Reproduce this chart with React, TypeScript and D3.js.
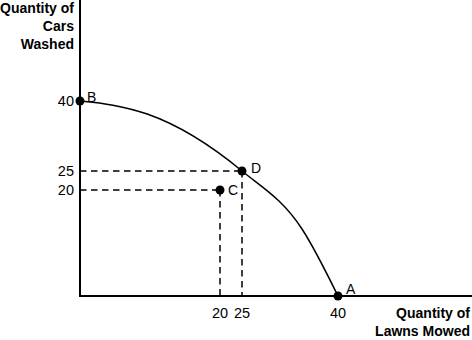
import React from "react";
import * as d3 from "d3";

// Production possibilities frontier (lawns mowed, cars washed)
const frontierLawns = [0, 4.7, 9.6, 25, 34.4, 40];
const frontierCars = [40, 39.1, 37.2, 25, 12.6, 0];

const pointNames = ["B", "D", "C", "A"];
const pointLawns = [0, 25, 20, 40];
const pointCars = [40, 25, 20, 0];

const xTicks = [20, 25, 40];
const yTicks = [20, 25, 40];

const dashedNames = ["D", "C"];

export default function App() {
  const W = 472;
  const H = 340;
  // schematic (piecewise) scales as in the original drawing
  const x = d3.scaleLinear().domain([0, 20, 25, 40]).range([80, 220, 242, 338]);
  const y = d3.scaleLinear().domain([0, 20, 25, 40]).range([296, 190, 171, 101]);

  const pts: [number, number][] = frontierLawns.map((l, i) => [x(l), y(frontierCars[i])]);
  const line = d3.line().curve(d3.curveMonotoneX)(pts) || "";

  const labelOffsets: Record<string, [number, number]> = {
    B: [7, -4],
    D: [9, -3],
    C: [8, 0],
    A: [8, -7],
  };

  const font = "'Liberation Sans', Arial, Helvetica, sans-serif";

  return (
    <svg width={W} height={H} style={{ position: "absolute", left: 0, top: 0, background: "#fff" }} fontFamily={font}>
      <rect width={W} height={H} fill="#fff" />
      {/* dashed guides */}
      {dashedNames.map((n) => {
        const i = pointNames.indexOf(n);
        const px = x(pointLawns[i]);
        const py = y(pointCars[i]);
        return (
          <g key={n} stroke="#000" strokeWidth={1.5} strokeDasharray="6.5 4.5" fill="none">
            <line x1={x(0)} y1={py} x2={px} y2={py} />
            <line x1={px} y1={py} x2={px} y2={y(0)} />
          </g>
        );
      })}
      {/* frontier */}
      <path d={line} fill="none" stroke="#000" strokeWidth={1.5} />
      {/* axes */}
      <line x1={x(0)} y1={0} x2={x(0)} y2={y(0) + 1} stroke="#000" strokeWidth={2} />
      <line x1={x(0) - 1} y1={y(0)} x2={W} y2={y(0)} stroke="#000" strokeWidth={2} />
      {/* ticks labels */}
      {xTicks.map((t) => (
        <text key={"x" + t} x={x(t)} y={318} textAnchor="middle" fontSize={14.5}>
          {t}
        </text>
      ))}
      {yTicks.map((t) => (
        <text key={"y" + t} x={74} y={y(t)} dy="0.36em" textAnchor="end" fontSize={14.5}>
          {t}
        </text>
      ))}
      {/* points */}
      {pointNames.map((n, i) => {
        const px = x(pointLawns[i]);
        const py = y(pointCars[i]);
        const [dx, dy] = labelOffsets[n];
        return (
          <g key={n}>
            <circle cx={px} cy={py} r={4.5} fill="#000" />
            <text x={px + dx} y={py + dy} dy="0.36em" fontSize={14}>
              {n}
            </text>
          </g>
        );
      })}
      {/* axis titles */}
      <g fontWeight="bold" fontSize={14} textAnchor="end">
        <text x={74} y={13}>Quantity of</text>
        <text x={74} y={31}>Cars</text>
        <text x={74} y={49}>Washed</text>
        <text x={470} y={318}>Quantity of</text>
        <text x={470} y={336}>Lawns Mowed</text>
      </g>
    </svg>
  );
}
